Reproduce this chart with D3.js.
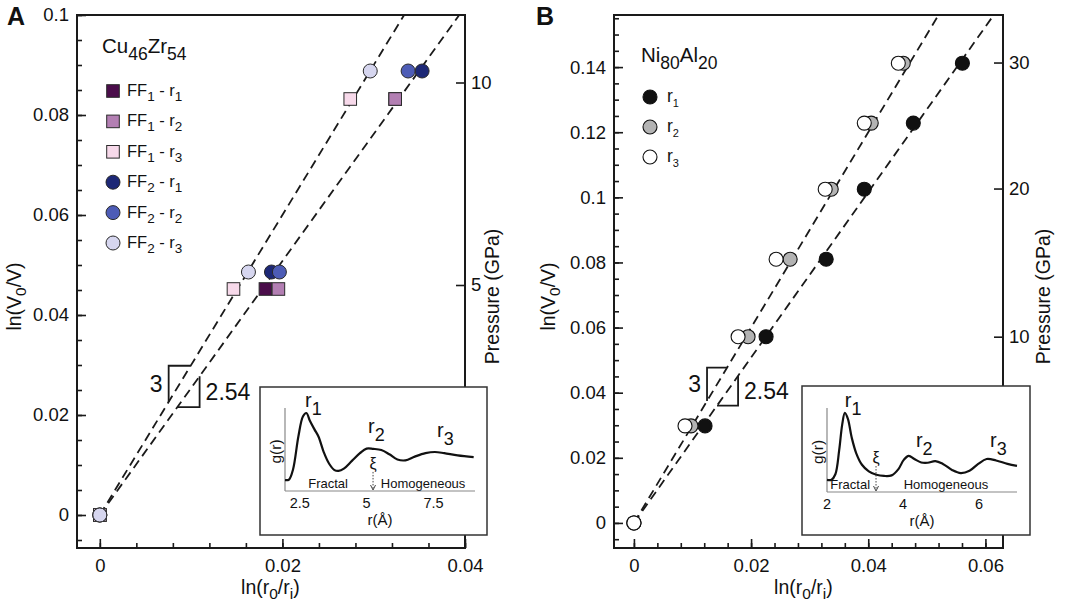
<!DOCTYPE html>
<html><head><meta charset="utf-8">
<script src="https://cdn.jsdelivr.net/npm/d3@7"></script>
<style>
body{margin:0;background:#fff}
svg{display:block}
text{font-family:"Liberation Sans",Arial,Helvetica,sans-serif;fill:#111}
</style></head>
<body><svg id="c" width="1066" height="615"></svg>
<script>
// ---------------- DATA ----------------
// Panel A: Cu46Zr54
const aSeries = ["FF1-r1","FF1-r2","FF1-r3","FF2-r1","FF2-r2","FF2-r3"];
const aLevelsFF1 = [0, 0.0452, 0.0832];   // ln(V0/V)
const aLevelsFF2 = [0, 0.0486, 0.0888];
const aFF1r1 = [0, 0.01814, 0.03235];     // ln(r0/ri)
const aFF1r2 = [0, 0.01956, 0.03235];
const aFF1r3 = [0, 0.01464, 0.02743];
const aFF2r1 = [0, 0.0188, 0.0353];
const aFF2r2 = [0, 0.01967, 0.03377];
const aFF2r3 = [0, 0.01628, 0.02962];
// Panel B: Ni80Al20
const bSeries = ["r1","r2","r3"];
const bLevels = [0, 0.0298, 0.0572, 0.081, 0.1025, 0.1228, 0.1412];
const bR1 = [0, 0.01214, 0.02256, 0.03282, 0.03932, 0.04769, 0.05607];
const bR2 = [0, 0.00974, 0.01949, 0.02667, 0.03368, 0.04051, 0.04598];
const bR3 = [0, 0.00872, 0.01778, 0.02427, 0.03265, 0.03932, 0.04513];
// guide lines (slopes through origin)
const slopes = [3, 2.54];
const slopeLabels = ["3", "2.54"];
// axis ticks
const xTicksA = [0, 0.02, 0.04];
const yTicksA = [0, 0.02, 0.04, 0.06, 0.08, 0.1];
const xTicksB = [0, 0.02, 0.04, 0.06];
const yTicksB = [0, 0.02, 0.04, 0.06, 0.08, 0.1, 0.12, 0.14];
const pressTicksA = [5, 10];
const pressPosA = [0.046, 0.0865];
const pressTicksB = [10, 20, 30];
const pressPosB = [0.0572, 0.1027, 0.1414];
// slope triangle extents (ln(r0/ri))
const triUpperA = [0.00754, 0.00995];
const triLowerA = [0.0085, 0.01093];
const triUpperB = [0.01248, 0.0159];
const triLowerB = [0.01419, 0.01778];
// insets g(r)
const gA_r = [1.95,2.1,2.25,2.45,2.62,2.75,2.88,3.05,3.2,3.4,3.6,3.8,3.95,4.15,4.45,4.75,5.0,5.25,5.55,5.85,6.15,6.45,6.8,7.2,7.55,7.9,8.4,9.0];
const gA_g = [0.38,0.40,0.75,1.9,2.6,2.72,2.45,2.15,1.9,1.35,0.95,0.73,0.70,0.78,1.05,1.32,1.48,1.47,1.43,1.28,1.1,1.07,1.2,1.32,1.36,1.32,1.24,1.18];
const gB_r = [2.0,2.12,2.22,2.32,2.4,2.47,2.55,2.65,2.77,2.92,3.1,3.3,3.5,3.7,3.88,4.02,4.15,4.3,4.48,4.65,4.85,5.05,5.3,5.52,5.75,5.98,6.2,6.45,6.75,7.0];
const gB_g = [0.42,0.43,0.62,1.45,2.35,2.76,2.55,1.9,1.35,0.95,0.72,0.6,0.56,0.58,0.8,1.12,1.26,1.15,1.03,1.02,1.08,0.98,0.76,0.66,0.74,0.98,1.15,1.1,0.98,0.91];
const insetTicksA = [2.5, 5, 7.5];
const insetTicksB = [2, 4, 6];

// ---------------- STYLES ----------------
const aColors = {"FF1-r1":"#4b0d4b","FF1-r2":"#b37fb3","FF1-r3":"#f7d9ea","FF2-r1":"#1d2876","FF2-r2":"#4d5cb6","FF2-r3":"#d6d6ef"};
const bColors = {"r1":"#111111","r2":"#b3b3b3","r3":"#ffffff"};

const svg = d3.select("#c");
const FS = 18.5;

function rich(textSel, parts, baseSize, subSize, shift){
  let prevSub = false;
  parts.forEach(p=>{
    const ts = textSel.append("tspan").text(p.t);
    const sub = !!p.s;
    if (sub && !prevSub) ts.attr("dy", shift);
    if (!sub && prevSub) ts.attr("dy", -shift);
    ts.attr("font-size", sub ? subSize : baseSize);
    prevSub = sub;
  });
  return textSel;
}
const fmt = v => v === 0 ? "0" : String(+v.toFixed(3));

function drawPanel(o){
  const g = svg.append("g");
  const [x0,x1] = o.x.range(), [y0,y1] = o.y.range();
  const cid = "clip"+o.id;
  svg.append("clipPath").attr("id",cid).append("rect")
    .attr("x",x0).attr("y",y1).attr("width",x1-x0).attr("height",y0-y1);
  const bottom = g.append("g").attr("transform",`translate(0,${y0})`);
  bottom.call(d3.axisBottom(o.x).tickValues(o.xMinor).tickSize(-5).tickFormat(""));
  bottom.append("g").call(d3.axisBottom(o.x).tickValues(o.xTicks).tickSize(-9).tickPadding(11).tickFormat(fmt));
  const left = g.append("g").attr("transform",`translate(${x0},0)`);
  left.call(d3.axisLeft(o.y).tickValues(o.yMinor).tickSize(-5).tickFormat(""));
  left.append("g").call(d3.axisLeft(o.y).tickValues(o.yTicks).tickSize(-9).tickPadding(8).tickFormat(fmt));
  const right = g.append("g").attr("transform",`translate(${x1},0)`);
  right.call(d3.axisRight(o.y).tickValues(o.pressPos).tickSize(-9).tickPadding(6).tickFormat((d,i)=>o.pressTicks[i]));
  g.selectAll(".domain").remove();
  g.selectAll(".tick line").attr("stroke","#1a1a1a").attr("stroke-width",1.6);
  g.selectAll(".tick text").attr("font-size",FS).attr("fill","#111")
    .attr("font-family","Liberation Sans, Arial, sans-serif");
  g.append("rect").attr("x",x0).attr("y",y1).attr("width",x1-x0).attr("height",y0-y1)
    .attr("fill","none").attr("stroke","#1a1a1a").attr("stroke-width",2);

  rich(g.append("text").attr("text-anchor","middle")
    .attr("transform",`translate(${o.yTitleX},${(y0+y1)/2+15}) rotate(-90)`),
    [{t:"ln(V"},{t:"0",s:1},{t:"/V)"}], 19.5, 15.5, 5);
  rich(g.append("text").attr("text-anchor","middle")
    .attr("x",(o.x(0)+x1)/2+ (o.id==="A"?-12:-15)).attr("y",594),
    [{t:"ln(r"},{t:"0",s:1},{t:"/r"},{t:"i",s:1},{t:")"}], 19.5, 15.5, 5);
  g.append("text").attr("text-anchor","middle").attr("font-size",19.5)
    .attr("transform",`translate(${o.pTitleX},${(y0+y1)/2+15}) rotate(-90)`).text("Pressure (GPa)");
  g.append("text").attr("x",o.letterX).attr("y",25).attr("font-size",25).attr("font-weight","bold")
    .attr("font-family","Liberation Sans Narrow, Arial Narrow, Liberation Sans, sans-serif").text(o.id);

  const lg = g.append("g").attr("clip-path",`url(#${cid})`);
  const yMax = o.y.domain()[1];
  slopes.forEach(s=>{
    const xe = Math.min(o.x.domain()[1], yMax/s);
    lg.append("line").attr("x1",o.x(0)).attr("y1",o.y(0)).attr("x2",o.x(xe)).attr("y2",o.y(s*xe))
      .attr("stroke","#1a1a1a").attr("stroke-width",1.8).attr("stroke-dasharray","9,5.5");
  });
  const s1 = slopes[0], s2 = slopes[1];
  const [ua,ub] = o.triU, [la,lb] = o.triL;
  g.append("path").attr("d",`M${o.x(ua)},${o.y(s1*ua)}V${o.y(s1*ub)}H${o.x(ub)}`)
    .attr("fill","none").attr("stroke","#1a1a1a").attr("stroke-width",1.8);
  g.append("path").attr("d",`M${o.x(la)},${o.y(s2*la)}H${o.x(lb)}V${o.y(s2*lb)}`)
    .attr("fill","none").attr("stroke","#1a1a1a").attr("stroke-width",1.8);
  g.append("text").attr("x",o.x(ua)-6).attr("y",(o.y(s1*ua)+o.y(s1*ub))/2+8)
    .attr("text-anchor","end").attr("font-size",23).text(slopeLabels[0]);
  g.append("text").attr("x",o.x(lb)+6).attr("y",(o.y(s2*la)+o.y(s2*lb))/2+8)
    .attr("font-size",23).text(slopeLabels[1]);
  return g;
}

// ---------------- PANEL A ----------------
const xA = d3.scaleLinear([-0.0025,0.04],[77,465]);
const yA = d3.scaleLinear([-0.0066,0.1],[548,15]);
const gA = drawPanel({id:"A", x:xA, y:yA, xTicks:xTicksA, yTicks:yTicksA,
  xMinor:d3.range(0,0.0401,0.004), yMinor:d3.range(-0.005,0.1001,0.005),
  pressTicks:pressTicksA, pressPos:pressPosA, yTitleX:21, pTitleX:499, letterX:7,
  triU:triUpperA, triL:triLowerA});

const aXs = {"FF1-r1":aFF1r1,"FF1-r2":aFF1r2,"FF1-r3":aFF1r3,"FF2-r1":aFF2r1,"FF2-r2":aFF2r2,"FF2-r3":aFF2r3};
aSeries.forEach(k=>{
  const ys = k.startsWith("FF1") ? aLevelsFF1 : aLevelsFF2;
  const pts = aXs[k].map((v,i)=>[v,ys[i]]);
  const sel = gA.append("g").selectAll("g").data(pts).join("g");
  if (k.startsWith("FF1")) {
    sel.append("rect").attr("x",d=>xA(d[0])-6.3).attr("y",d=>yA(d[1])-6.3).attr("width",12.6).attr("height",12.6)
      .attr("fill",aColors[k]).attr("stroke","#2a2a2a").attr("stroke-width",1);
  } else {
    sel.append("circle").attr("cx",d=>xA(d[0])).attr("cy",d=>yA(d[1])).attr("r",7)
      .attr("fill",aColors[k]).attr("stroke","#2a2a2a").attr("stroke-width",1);
  }
});
rich(gA.append("text").attr("x",102).attr("y",53), [{t:"Cu"},{t:"46",s:1},{t:"Zr"},{t:"54",s:1}], 20.5, 17.5, 7);
aSeries.forEach((k,i)=>{
  const cy = 91 + i*30.4, cx = 113;
  if (k.startsWith("FF1")) gA.append("rect").attr("x",cx-6.3).attr("y",cy-6.3).attr("width",12.6).attr("height",12.6)
      .attr("fill",aColors[k]).attr("stroke","#2a2a2a").attr("stroke-width",1);
  else gA.append("circle").attr("cx",cx).attr("cy",cy).attr("r",7).attr("fill",aColors[k]).attr("stroke","#2a2a2a").attr("stroke-width",1);
  const p = k.split("-");
  rich(gA.append("text").attr("x",127).attr("y",cy+5),
    [{t:"FF"},{t:p[0].slice(2),s:1},{t:" - r"},{t:p[1].slice(1),s:1}], 16.5, 13.5, 5);
});

// ---------------- PANEL B ----------------
const xB = d3.scaleLinear([-0.0034,0.063],[614,1003]);
const yB = d3.scaleLinear([-0.0077,0.156],[548,15]);
const gB = drawPanel({id:"B", x:xB, y:yB, xTicks:xTicksB, yTicks:yTicksB,
  xMinor:d3.range(0,0.0601,0.004), yMinor:d3.range(-0.005,0.1551,0.005),
  pressTicks:pressTicksB, pressPos:pressPosB, yTitleX:555, pTitleX:1050, letterX:536,
  triU:triUpperB, triL:triLowerB});
const bXs = {"r1":bR1,"r2":bR2,"r3":bR3};
bSeries.forEach(k=>{
  gB.append("g").selectAll("circle").data(bXs[k].map((v,i)=>[v,bLevels[i]])).join("circle")
    .attr("cx",d=>xB(d[0])).attr("cy",d=>yB(d[1])).attr("r",7)
    .attr("fill",bColors[k]).attr("stroke","#111").attr("stroke-width",1.1);
});
rich(gB.append("text").attr("x",641).attr("y",62), [{t:"Ni"},{t:"80",s:1},{t:"Al"},{t:"20",s:1}], 20.5, 17.5, 7);
bSeries.forEach((k,i)=>{
  const cy = 97 + i*30, cx = 650;
  gB.append("circle").attr("cx",cx).attr("cy",cy).attr("r",7).attr("fill",bColors[k]).attr("stroke","#111").attr("stroke-width",1.1);
  rich(gB.append("text").attr("x",667).attr("y",cy+5), [{t:"r"},{t:k.slice(1),s:1}], 17.5, 11, 5);
});

// ---------------- INSETS ----------------
function drawInset(o){
  const g = svg.append("g");
  g.append("rect").attr("x",o.box[0]).attr("y",o.box[1]).attr("width",o.box[2]-o.box[0]).attr("height",o.box[3]-o.box[1])
    .attr("fill","#fff").attr("stroke","#333").attr("stroke-width",1.5);
  const [ix0,ix1] = o.x.range(), yb = o.y(0);
  g.append("line").attr("x1",ix0).attr("x2",ix0).attr("y1",o.yTop).attr("y2",yb).attr("stroke","#888").attr("stroke-width",1.2);
  g.append("line").attr("x1",ix0).attr("x2",ix1).attr("y1",yb).attr("y2",yb).attr("stroke","#888").attr("stroke-width",1.2);
  g.selectAll(".it").data(o.ticks).join("text").attr("text-anchor","middle").attr("font-size",14.5)
    .attr("x",d=>o.x(d)).attr("y",yb+17).text(d=>d);
  g.append("text").attr("text-anchor","middle").attr("font-size",15).attr("x",o.rLabelX).attr("y",yb+34).text("r(Å)");
  g.append("text").attr("text-anchor","middle").attr("font-size",15.5)
    .attr("transform",`translate(${ix0-4},${(o.yTop+yb)/2+2}) rotate(-90)`).text("g(r)");
  g.append("path").datum(o.r.map((v,i)=>[v,o.g[i]]))
    .attr("d",d3.line().x(d=>o.x(d[0])).y(d=>o.y(d[1])).curve(d3.curveCatmullRom.alpha(0.5)))
    .attr("fill","none").attr("stroke","#111").attr("stroke-width",2.2);
  o.peaks.forEach((p,i)=>{
    rich(g.append("text").attr("x",o.x(p[0])).attr("y",o.y(p[1])), [{t:"r"},{t:String(i+1),s:1}], 20, 18, 8);
  });
  g.append("text").attr("text-anchor","middle").attr("font-size",16).attr("x",o.x(o.xi[0])).attr("y",o.y(o.xi[1])).text("ξ");
  g.append("line").attr("x1",o.x(o.xi[0])).attr("x2",o.x(o.xi[0])).attr("y1",o.y(o.xi[1])+3).attr("y2",yb-2)
    .attr("stroke","#444").attr("stroke-width",1).attr("stroke-dasharray","1.5,1.5");
  g.append("path").attr("d",`M${o.x(o.xi[0])-2.5},${yb-6}L${o.x(o.xi[0])},${yb-1}L${o.x(o.xi[0])+2.5},${yb-6}`)
    .attr("fill","none").attr("stroke","#444").attr("stroke-width",1);
  g.append("text").attr("text-anchor","middle").attr("font-size",13).attr("fill","#333").attr("x",o.x(o.fr)).attr("y",yb-3).text("Fractal");
  g.append("text").attr("text-anchor","middle").attr("font-size",13).attr("fill","#333").attr("x",o.x(o.ho)).attr("y",yb-3).text("Homogeneous");
}
drawInset({box:[260,387,487,535], x:d3.scaleLinear([1.95,9.05],[285,475]), y:d3.scaleLinear([0,3],[491,405]),
  yTop:408, ticks:insetTicksA, rLabelX:380, r:gA_r, g:gA_g,
  peaks:[[2.70,2.93],[5.05,2.02],[7.63,1.88]], xi:[5.24,0.77], fr:3.56, ho:7.11});
drawInset({box:[802,386,1030,535], x:d3.scaleLinear([2,7],[827,1017]), y:d3.scaleLinear([0,3],[492,406]),
  yTop:408, ticks:insetTicksB, rLabelX:922, r:gB_r, g:gB_g,
  peaks:[[2.47,2.97],[4.34,1.57],[6.29,1.57]], xi:[3.29,1.01], fr:2.61, ho:5.13});
</script></body></html>
